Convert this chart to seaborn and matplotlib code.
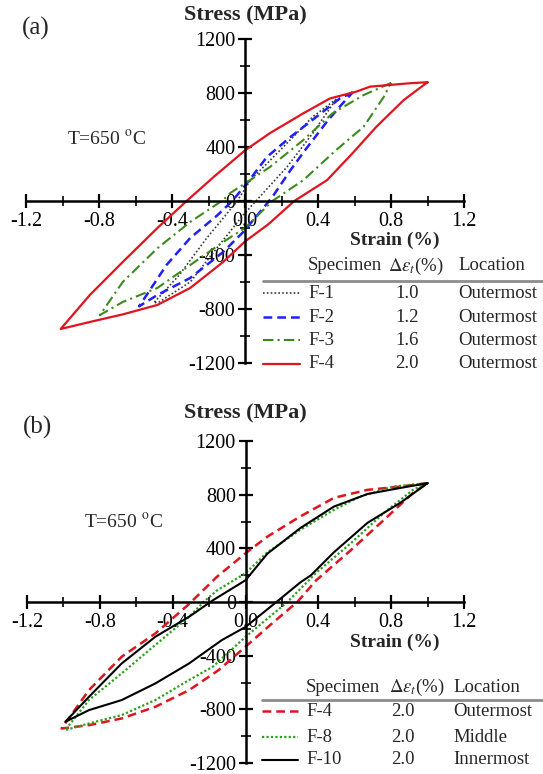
import matplotlib
matplotlib.use("Agg")
import matplotlib.pyplot as plt
from matplotlib.lines import Line2D
from matplotlib.ticker import MultipleLocator
import numpy as np
import pandas as pd
import seaborn as sns

# ---- panel (a) data: strain (%) / stress (MPa), upper branch then lower branch ----
f1_up_x = [0.50, 0.37, 0.21, 0.03, -0.045, -0.21, -0.36, -0.50]
f1_up_y = [755, 622, 400, 155, -5, -275, -548, -755]
f1_lo_x = [-0.50, -0.47, -0.30, -0.155, -0.01, 0.08, 0.23, 0.37, 0.50]
f1_lo_y = [-755, -748, -600, -350, -104, 30, 252, 500, 755]

f2_up_x = [0.59, 0.52, 0.39, 0.25, 0.12, 0.01, -0.07, -0.15, -0.30, -0.43, -0.58]
f2_up_y = [805, 760, 622, 475, 326, 130, 0, -104, -274, -474, -780]
f2_lo_x = [-0.58, -0.48, -0.30, -0.12, -0.01, 0.10, 0.15, 0.25, 0.33, 0.45, 0.52, 0.59]
f2_lo_y = [-780, -696, -570, -378, -230, -52, 30, 230, 378, 590, 700, 805]

f3_up_x = [0.80, 0.65, 0.48, 0.32, 0.137, 0.0, -0.08, -0.12, -0.30, -0.48, -0.67, -0.795]
f3_up_y = [875, 785, 650, 452, 252, 130, 60, 7, -155, -350, -600, -845]
f3_lo_x = [-0.795, -0.67, -0.48, -0.30, -0.12, 0.0, 0.15, 0.32, 0.50, 0.65, 0.76, 0.80]
f3_lo_y = [-845, -748, -644, -474, -304, -200, 0, 155, 378, 550, 770, 875]

f4_up_x = [1.0, 0.90, 0.685, 0.61, 0.466, 0.32, 0.137, 0.0, -0.17, -0.32, -0.48, -0.67, -0.85, -1.01]
f4_up_y = [880, 872, 847, 810, 760, 650, 503, 375, 180, 0, -200, -452, -696, -948]
f4_lo_x = [-1.01, -0.85, -0.67, -0.48, -0.30, -0.12, 0.0, 0.13, 0.27, 0.45, 0.59, 0.72, 0.87, 1.0]
f4_lo_y = [-948, -896, -840, -770, -644, -452, -300, -170, 0, 155, 355, 550, 748, 880]

# ---- panel (b) data ----
b4_up_x = [1.0, 0.85, 0.67, 0.485, 0.30, 0.12, 0.0, -0.156, -0.31, -0.495, -0.68, -0.86, -1.01]
b4_up_y = [886, 860, 836, 776, 637, 487, 363, 189, -15, -234, -408, -657, -943]
b4_lo_x = [-1.01, -0.86, -0.68, -0.495, -0.31, -0.147, 0.0, 0.137, 0.284, 0.39, 0.58, 0.76, 0.92, 1.0]
b4_lo_y = [-943, -918, -868, -781, -657, -507, -333, -170, 0, 164, 388, 612, 813, 886]

b8_up_x = [1.0, 0.81, 0.63, 0.485, 0.30, 0.12, 0.0, -0.156, -0.23, -0.31, -0.495, -0.68, -0.86, -0.99]
b8_up_y = [886, 860, 786, 687, 537, 370, 214, 87, 0, -110, -320, -532, -731, -955]
b8_lo_x = [-0.99, -0.86, -0.68, -0.495, -0.31, -0.18, 0.0, 0.23, 0.39, 0.58, 0.76, 0.92, 1.0]
b8_lo_y = [-955, -905, -843, -731, -582, -483, -260, 0, 220, 440, 664, 836, 886]

b10_up_x = [1.0, 0.85, 0.67, 0.485, 0.30, 0.12, 0.0, -0.18, -0.31, -0.495, -0.68, -0.86, -0.99]
b10_up_y = [886, 850, 805, 711, 550, 360, 162, 12, -110, -259, -458, -707, -893]
b10_lo_x = [-0.99, -0.86, -0.68, -0.495, -0.31, -0.13, 0.0, 0.17, 0.30, 0.36, 0.485, 0.67, 0.85, 1.0]
b10_lo_y = [-893, -806, -731, -607, -458, -284, -186, 0, 145, 200, 370, 590, 739, 886]

# legend table contents
a_names = ["F-1", "F-2", "F-3", "F-4"]
a_ranges = ["1.0", "1.2", "1.6", "2.0"]
a_locs = ["Outermost", "Outermost", "Outermost", "Outermost"]
b_names = ["F-4", "F-8", "F-10"]
b_ranges = ["2.0", "2.0", "2.0"]
b_locs = ["Outermost", "Middle", "Innermost"]

x_ticks = [-1.2, -0.8, -0.4, 0.0, 0.4, 0.8, 1.2]
x_tick_labels = ["-1.2", "-0.8", "-0.4", "0.0", "0.4", "0.8", "1.2"]
y_ticks = [-1200, -800, -400, 0, 400, 800, 1200]
y_tick_labels = ["-1200", "-800", "-400", "0", "400", "800", "1200"]

sns.set_theme(style="white")
plt.rcParams["font.family"] = ["Liberation Serif", "DejaVu Serif"]
plt.rcParams["mathtext.fontset"] = "stix"
plt.rcParams["axes.unicode_minus"] = False

W, H = 543, 774
fig = plt.figure(figsize=(W / 100, H / 100), dpi=100)


def fx(px):
    return px / W


def fy(py):
    return 1 - py / H


def loop(up_x, up_y, lo_x, lo_y):
    return pd.DataFrame({"strain": up_x + lo_x, "stress": up_y + lo_y})


def setup_axes(ax):
    ax.set_xlim(-1.2, 1.2)
    ax.set_ylim(-1200, 1200)
    for side in ["top", "right"]:
        ax.spines[side].set_visible(False)
    for side in ["left", "bottom"]:
        ax.spines[side].set_position("zero")
        ax.spines[side].set_linewidth(1.8)
        ax.spines[side].set_color("black")
    ax.set_xticks(x_ticks)
    ax.set_xticklabels(x_tick_labels)
    ax.set_yticks(y_ticks)
    ax.set_yticklabels(y_tick_labels)
    ax.xaxis.set_minor_locator(MultipleLocator(0.2))
    ax.yaxis.set_minor_locator(MultipleLocator(200))
    ax.tick_params(which="major", direction="inout", length=10, width=1.6,
                   labelsize=14.5, colors="black", bottom=True, left=True)
    ax.tick_params(which="minor", direction="inout", length=7, width=1.4,
                   bottom=True, left=True)
    ax.tick_params(axis="x", pad=3)
    ax.tick_params(axis="y", pad=2)
    ax.set_xlabel("")
    ax.set_ylabel("")
    ax.set_facecolor("none")
    ax.grid(False)


def table(header_y, line_y, row_ys, sample_x0, sample_x1, name_x, val_x, loc_x,
          hdr_spec_x, hdr_de_x, styles, names, ranges, locs):
    fs = 13.5
    fig.text(fx(hdr_spec_x), fy(header_y), "Specimen", fontsize=fs, va="center", ha="left")
    fig.text(fx(hdr_de_x), fy(header_y), r"$\Delta\varepsilon_t$(%)", fontsize=fs,
             va="center", ha="left")
    fig.text(fx(loc_x), fy(header_y), "Location", fontsize=fs, va="center", ha="left")
    fig.add_artist(Line2D([fx(sample_x0), fx(W)], [fy(line_y), fy(line_y)],
                          color="#8c8c8c", lw=2.0, transform=fig.transFigure))
    for ry, st, n, r, l in zip(row_ys, styles, names, ranges, locs):
        fig.add_artist(Line2D([fx(sample_x0), fx(sample_x1)], [fy(ry), fy(ry)],
                              transform=fig.transFigure, **st))
        fig.text(fx(name_x), fy(ry), n, fontsize=fs, va="center", ha="left")
        fig.text(fx(val_x), fy(ry), r, fontsize=fs, va="center", ha="center")
        fig.text(fx(loc_x), fy(ry), l, fontsize=fs, va="center", ha="left")


# ---------------- panel (a) ----------------
ax1 = fig.add_axes([fx(26), fy(363), (464 - 26) / W, (363 - 39) / H])
styles_a = [
    dict(color="#3a3a3a", lw=1.2, linestyle=(0, (1, 1.3))),
    dict(color="#1f1fff", lw=1.8, linestyle=(0, (3.5, 2))),
    dict(color="#3c8a1e", lw=1.5, linestyle=(0, (5, 2, 1, 2))),
    dict(color="#e0141e", lw=1.6, linestyle="-"),
]
loops_a = [
    loop(f1_up_x, f1_up_y, f1_lo_x, f1_lo_y),
    loop(f2_up_x, f2_up_y, f2_lo_x, f2_lo_y),
    loop(f3_up_x, f3_up_y, f3_lo_x, f3_lo_y),
    loop(f4_up_x, f4_up_y, f4_lo_x, f4_lo_y),
]
for df, st in zip(loops_a, styles_a):
    sns.lineplot(data=df, x="strain", y="stress", sort=False, estimator=None, ax=ax1, **st)
setup_axes(ax1)

fig.text(fx(36), fy(28), "(a)", fontsize=18, ha="center", va="center")
fig.text(fx(245), fy(15), "Stress (MPa)", fontsize=16, fontweight="bold", ha="center", va="center")
fig.text(fx(395), fy(240), "Strain (%)", fontsize=14, fontweight="bold", ha="center", va="center")
fig.text(fx(106), fy(139), r"T=650 $^{\mathrm{o}}$C", fontsize=14, ha="center", va="center")

table(266, 281, [293, 317, 340, 364], 263, 300, 308, 407, 458, 308, 388,
      styles_a, a_names, a_ranges, a_locs)

# ---------------- panel (b) ----------------
ax2 = fig.add_axes([fx(27), fy(763), (464 - 27) / W, (763 - 441) / H])
styles_b = [
    dict(color="#e0141e", lw=1.8, linestyle=(0, (3.5, 2))),
    dict(color="#2e9e1e", lw=1.6, linestyle=(0, (1, 1))),
    dict(color="black", lw=1.5, linestyle="-"),
]
loops_b = [
    loop(b4_up_x, b4_up_y, b4_lo_x, b4_lo_y),
    loop(b8_up_x, b8_up_y, b8_lo_x, b8_lo_y),
    loop(b10_up_x, b10_up_y, b10_lo_x, b10_lo_y),
]
for df, st in zip(loops_b, styles_b):
    sns.lineplot(data=df, x="strain", y="stress", sort=False, estimator=None, ax=ax2, **st)
setup_axes(ax2)

fig.text(fx(37), fy(427), "(b)", fontsize=18, ha="center", va="center")
fig.text(fx(245), fy(413), "Stress (MPa)", fontsize=16, fontweight="bold", ha="center", va="center")
fig.text(fx(395), fy(642), "Strain (%)", fontsize=14, fontweight="bold", ha="center", va="center")
fig.text(fx(123), fy(522), r"T=650 $^{\mathrm{o}}$C", fontsize=14, ha="center", va="center")

table(687, 700, [711, 737, 760], 262, 298, 306, 403, 453, 306, 389,
      styles_b, b_names, b_ranges, b_locs)

fig.savefig("out.png", dpi=100, facecolor="white")
